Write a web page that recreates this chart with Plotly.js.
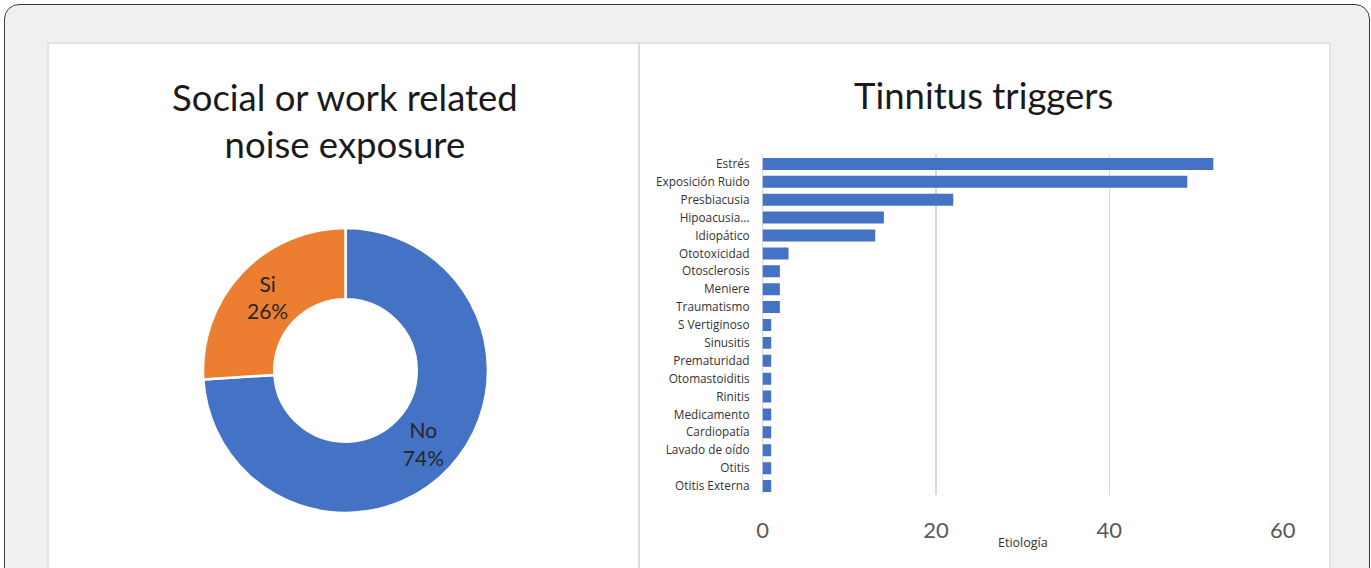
<!DOCTYPE html>
<html>
<head>
<meta charset="utf-8">
<script src="https://cdn.plot.ly/plotly-3.0.1.min.js"></script>
<style>
  html, body { margin: 0; padding: 0; background: #ffffff; width: 1371px; height: 568px; overflow: hidden; }
  .frame { position: absolute; left: 4px; top: 4px; width: 1366px; height: 700px; border: 1.5px solid #3c3c3c; border-radius: 15px; background: #eff0f2; box-sizing: border-box; }
  .panel { position: absolute; left: 47px; top: 42px; width: 1284px; height: 600px; background: #ffffff; border: 2px solid #e3e3e3; box-sizing: border-box; }
  #chart { position: absolute; left: 47px; top: 42px; width: 1283px; height: 526px; }
</style>
</head>
<body>
<div class="frame"></div>
<div class="panel"></div>
<div id="chart"></div>
<script>
// Donut: social or work related noise exposure
const exposureLabels = ['No', 'Si'];
const exposureValues = [74, 26];

// Bars: tinnitus triggers (top to bottom)
const triggerCategories = [
  'Estrés', 'Exposición Ruido', 'Presbiacusia', 'Hipoacusia...', 'Idiopático',
  'Ototoxicidad', 'Otosclerosis', 'Meniere', 'Traumatismo', 'S Vertiginoso',
  'Sinusitis', 'Prematuridad', 'Otomastoiditis', 'Rinitis', 'Medicamento',
  'Cardiopatía', 'Lavado de oído', 'Otitis', 'Otitis Externa'
];
const triggerValues = [52, 49, 22, 14, 13, 3, 2, 2, 2, 1, 1, 1, 1, 1, 1, 1, 1, 1, 1];

const xTickVals = [0, 20, 40, 60];
const xTickText = ['0', '20', '40', '60'];
const xAxisTitle = 'Etiología';

const pieTrace = {
  type: 'pie',
  labels: exposureLabels,
  values: exposureValues,
  hole: 0.5,
  sort: false,
  direction: 'clockwise',
  rotation: 0,
  marker: { colors: ['#4472C4', '#ED7D31'], line: { color: '#ffffff', width: 2.5 } },
  textinfo: 'label+percent',
  texttemplate: '%{label}<br>%{percent:.0%}',
  textposition: 'inside',
  insidetextorientation: 'horizontal',
  textfont: { family: 'Lato, sans-serif', size: 21, color: '#262626' },
  showlegend: false,
  hoverinfo: 'label+percent',
  domain: { x: [0.1216, 0.3437], y: [0.1046, 0.6464] }
};

const barTrace = {
  type: 'bar',
  orientation: 'h',
  y: triggerCategories,
  x: triggerValues,
  marker: { color: '#4472C4' },
  xaxis: 'x',
  yaxis: 'y',
  showlegend: false
};

const layout = {
  width: 1283,
  height: 526,
  margin: { l: 0, r: 0, t: 0, b: 0 },
  paper_bgcolor: 'rgba(0,0,0,0)',
  plot_bgcolor: 'rgba(0,0,0,0)',
  bargap: 0.33,
  font: { family: 'Lato, sans-serif', color: '#333333' },
  xaxis: {
    domain: [0.5577, 0.9631],
    range: [0, 60],
    tickvals: xTickVals,
    ticktext: xTickText,
    showgrid: true,
    gridcolor: '#d9d9d9',
    gridwidth: 1.5,
    zeroline: true,
    zerolinecolor: '#d9d9d9',
    zerolinewidth: 1.5,
    showline: false,
    ticks: '',
    ticklabelstandoff: 20,
    tickfont: { family: 'Lato, sans-serif', size: 22, color: '#595959' },
    fixedrange: true
  },
  yaxis: {
    domain: [0.1388, 0.7852],
    autorange: 'reversed',
    showgrid: false,
    zeroline: false,
    showline: false,
    ticks: '',
    ticklabelstandoff: 12,
    tickfont: { family: 'Open Sans, sans-serif', size: 11.8, color: '#333333' },
    fixedrange: true
  },
  shapes: [
    { type: 'line', xref: 'paper', yref: 'paper', x0: 0.4614, x1: 0.4614, y0: 0, y1: 1,
      line: { color: '#dcdcdc', width: 2 } }
  ],
  annotations: [
    { text: 'Social or work related<br>noise exposure', xref: 'paper', yref: 'paper',
      x: 0.2323, y: 0.8517, xanchor: 'center', yanchor: 'middle', showarrow: false,
      font: { family: 'Lato, sans-serif', size: 36.5, color: '#1a1a1a' } },
    { text: 'Tinnitus triggers', xref: 'paper', yref: 'paper',
      x: 0.7296, y: 0.8992, xanchor: 'center', yanchor: 'middle', showarrow: false,
      font: { family: 'Lato, sans-serif', size: 36.5, color: '#1a1a1a' } },
    { text: xAxisTitle, xref: 'x domain', yref: 'paper',
      x: 0.5, y: 0.0494, xanchor: 'center', yanchor: 'middle', showarrow: false,
      font: { family: 'Open Sans, sans-serif', size: 12.5, color: '#333333' } }
  ]
};

Plotly.newPlot('chart', [pieTrace, barTrace], layout, { displayModeBar: false, staticPlot: true });
</script>
</body>
</html>
